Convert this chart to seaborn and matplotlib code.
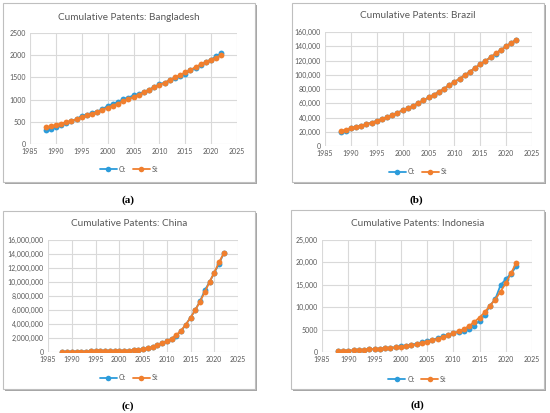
import pandas as pd
import seaborn as sns
import matplotlib.pyplot as plt
from matplotlib.patches import Rectangle
from matplotlib.lines import Line2D
from matplotlib.ticker import FuncFormatter

years = list(range(1988, 2023))

bangladesh_ct = [306, 343, 373, 418, 478, 515, 560, 634, 664, 701, 731, 784, 858, 903, 948, 1007, 1045,
                 1097, 1127, 1172, 1224, 1284, 1343, 1381, 1433, 1485, 1530, 1575, 1657, 1716, 1776, 1843,
                 1903, 1978, 2045]
bangladesh_st = [373, 396, 433, 455, 493, 522, 560, 597, 642, 679, 724, 769, 821, 866, 910, 963, 1007,
                 1060, 1112, 1164, 1224, 1276, 1328, 1381, 1440, 1500, 1552, 1612, 1672, 1731, 1791, 1851,
                 1903, 1948, 2000]

brazil_ct = [19000, 21500, 24800, 26700, 28600, 30500, 32800, 35200, 38000, 40400, 43200, 46500, 50300,
             53100, 56400, 60100, 63900, 68100, 71900, 76100, 80400, 85500, 89800, 94500, 99200, 104400,
             109500, 114700, 119400, 124600, 129800, 134900, 139700, 144800, 149100]
brazil_st = [21000, 23000, 25000, 26800, 28700, 30600, 32900, 35300, 38100, 40500, 43300, 46600, 50400,
             53200, 56500, 60200, 64000, 68200, 72000, 76200, 80500, 85600, 89900, 94600, 99300, 104500,
             109600, 114800, 119500, 124700, 129900, 135000, 139800, 144900, 149200]

china_ct = [15000, 25000, 35000, 45000, 55000, 65000, 75000, 85000, 95000, 105000, 115000, 130000,
            150000, 170000, 195000, 225000, 280000, 370000, 520000, 660000, 940000, 1230000, 1510000,
            1860000, 2330000, 2950000, 3900000, 4900000, 6000000, 7250000, 8800000, 10000000, 11300000,
            12600000, 14100000]
china_st = [15000, 25000, 35000, 45000, 55000, 65000, 75000, 85000, 95000, 105000, 115000, 130000,
            150000, 170000, 195000, 230000, 290000, 380000, 530000, 670000, 950000, 1240000, 1530000,
            1900000, 2420000, 3050000, 3920000, 4900000, 6000000, 7200000, 8550000, 10000000, 11350000,
            12800000, 14100000]

indonesia_ct = [150, 230, 290, 350, 420, 500, 570, 650, 730, 810, 900, 1080, 1250, 1400, 1630, 1850,
                2150, 2440, 2740, 3040, 3480, 3850, 4220, 4520, 4600, 5200, 5900, 7000, 8300, 10370,
                11800, 14900, 16250, 17480, 19100]
indonesia_st = [220, 300, 330, 370, 440, 520, 590, 670, 740, 810, 890, 1040, 1190, 1260, 1480, 1700,
                2000, 2300, 2590, 2890, 3330, 3700, 4150, 4590, 5110, 5800, 6700, 7700, 8890, 10370,
                11700, 13480, 15330, 17560, 19930]

W, H = 550, 413
BLUE = "#2C9CDB"
ORANGE = "#F07F2E"
GREY_TEXT = "#595959"

sns.set_style("white")
plt.rcParams['font.family'] = ['Lato', 'DejaVu Sans']

fig = plt.figure(figsize=(W / 100, H / 100), dpi=100)


def rect(l, t, r, b):
    return [l / W, 1 - b / H, (r - l) / W, (b - t) / H]


def draw_panel(box, plot, title, ct, st, ymax, ystep, fmt, title_y, legend_y, caption, cap_xy):
    l, t, r, b = box
    # shadow + frame, behind the axes
    fig.patches.append(Rectangle(((l + 2) / W, 1 - (b + 2) / H), (r - l) / W, (b - t) / H,
                                 transform=fig.transFigure, facecolor="#A6A6A6", edgecolor="none",
                                 zorder=-3))
    fig.patches.append(Rectangle((l / W, 1 - b / H), (r - l) / W, (b - t) / H,
                                 transform=fig.transFigure, facecolor="white", edgecolor="#BFBFBF",
                                 linewidth=0.8, zorder=-2))

    ax = fig.add_axes(rect(*plot))
    df = pd.DataFrame({
        "Year": years * 2,
        "Patents": ct + st,
        "Series": ["Ct"] * len(years) + ["St"] * len(years),
    })
    sns.lineplot(data=df, x="Year", y="Patents", hue="Series", palette=[BLUE, ORANGE],
                 marker="o", markersize=4.2, markeredgewidth=0, linewidth=1.3, ax=ax,
                 legend=False)
    ax.set_xlim(1985, 2025)
    ax.set_ylim(0, ymax)
    ax.set_xticks(range(1985, 2026, 5))
    ax.set_yticks(range(0, ymax + 1, ystep))
    ax.yaxis.set_major_formatter(FuncFormatter(fmt))
    ax.grid(True, color="#D9D9D9", linewidth=0.8)
    ax.set_axisbelow(True)
    for s in ax.spines.values():
        s.set_visible(False)
    ax.tick_params(axis="both", length=0, labelsize=5, colors=GREY_TEXT, pad=3)
    ax.set_xlabel("")
    ax.set_ylabel("")
    ax.patch.set_alpha(0)

    cx = (l + r) / 2 / W
    fig.text(cx, 1 - title_y / H, title, ha="center", va="center", fontsize=7.2, color=GREY_TEXT)
    handles = [Line2D([], [], color=BLUE, marker="o", markersize=4, markeredgewidth=0, linewidth=1.3),
               Line2D([], [], color=ORANGE, marker="o", markersize=4, markeredgewidth=0, linewidth=1.3)]
    leg = ax.legend(handles, ["Ct", "St"], loc="center", bbox_to_anchor=(cx, 1 - legend_y / H),
                    bbox_transform=fig.transFigure, ncol=2, frameon=False, fontsize=5,
                    handlelength=2.4, columnspacing=1.0, handletextpad=0.3)
    for txt in leg.get_texts():
        txt.set_color(GREY_TEXT)
    fig.text(cap_xy[0] / W, 1 - cap_xy[1] / H, caption, ha="center", va="center", fontsize=8,
             fontweight="bold", family=["Liberation Serif", "DejaVu Serif"], color="black")


plain = lambda v, p: f"{int(v)}"
comma = lambda v, p: f"{int(v):,}"
indo = lambda v, p: f"{int(v):,}" if v >= 10000 else f"{int(v)}"

draw_panel((3, 3, 255, 182), (30, 33, 237, 144), "Cumulative Patents: Bangladesh",
           bangladesh_ct, bangladesh_st, 2500, 500, plain, 17, 169, "(a)", (128, 200))
draw_panel((292, 3, 544, 182), (325, 32, 532, 146), "Cumulative Patents: Brazil",
           brazil_ct, brazil_st, 160000, 20000, comma, 15, 172, "(b)", (416, 200))
draw_panel((3, 211, 255, 389), (48, 240, 238, 352), "Cumulative Patents: China",
           china_ct, china_st, 16000000, 2000000, comma, 223, 378, "(c)", (128, 406))
draw_panel((291, 210, 544, 389), (322, 240, 532, 352), "Cumulative Patents: Indonesia",
           indonesia_ct, indonesia_st, 25000, 5000, indo, 223, 379, "(d)", (417, 405))

plt.savefig("out.png", dpi=100)
